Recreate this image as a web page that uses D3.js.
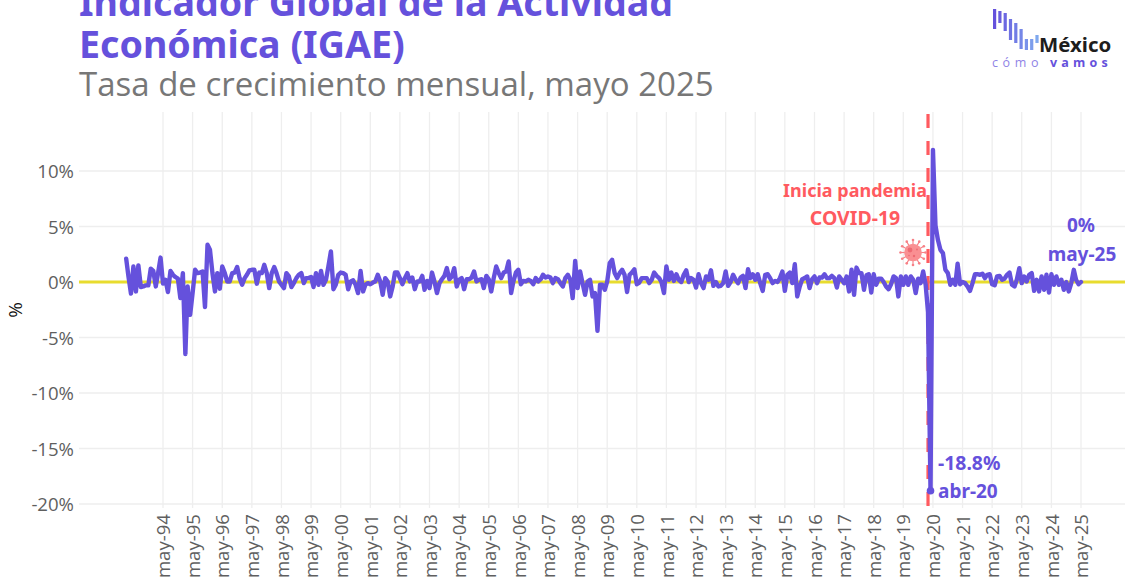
<!DOCTYPE html>
<html>
<head>
<meta charset="utf-8">
<script src="https://cdnjs.cloudflare.com/ajax/libs/d3/7.8.5/d3.min.js"></script>
<style>
  html, body { margin: 0; padding: 0; background: #fff; overflow: hidden; }
  text { font-family: "Open Sans", sans-serif; }
  .title { font-family: "Noto Sans", sans-serif; font-weight: 700; }
</style>
</head>
<body>
<svg id="canvas" width="1125" height="580"></svg>
<script>
// Monthly growth, Feb 1993 to May 2025, one row per year
var igae1993 = [2.1,.5,-1.05,1.4,-.85,1.5,-.45,-.4,-.3,-.3,1.2];
var igae1994 = [1,-.4,.8,2.2,-.15,.2,-.9,1,.65,.45,.3,-1.45];
var igae1995 = [.8,-6.5,-.4,-2.95,-1,1.1,.8,.85,.95,-2.25,3.35,2.9];
var igae1996 = [.8,-.85,.8,-.6,1.4,.8,.05,.05,.8,.85,1.35,.35];
var igae1997 = [-.25,.35,.65,1.05,1.1,1.1,-.15,.85,.8,1.55,.8,-.55];
var igae1998 = [.8,1.35,.8,.05,-.25,-.55,.8,.5,-.45,-.1,.35,.65];
var igae1999 = [.8,-.1,.35,.35,.45,-.45,.8,-.25,1,-.25,.2,1.4];
var igae2000 = [2.75,-.65,-.25,.65,.85,.8,.65,-.65,.05,.15,-.25,-1];
var igae2001 = [1,-.85,-.25,-.1,-.2,-.05,.05,.65,.05,-1.15,.35,.05];
var igae2002 = [-1.3,-.4,.85,.85,.35,-.2,.35,.8,.05,.4,-.65,.05];
var igae2003 = [.05,.55,-.7,.1,-.55,.85,.05,-1,-.1,.25,.55,1.25];
var igae2004 = [.25,.5,1.25,-.4,.2,.35,-.65,.25,.25,.4,.95,.05];
var igae2005 = [.2,.25,-.55,.55,.25,-.85,.35,1.4,.8,.35,.85,.95];
var igae2006 = [1.85,-1,.05,.85,1.1,-.2,.1,.05,.2,.1,-.2,.35];
var igae2007 = [.05,.25,.65,.4,.5,.4,-.1,.35,.25,-.1,-.4,.35];
var igae2008 = [.65,.2,-1.45,1.9,-.55,.95,-.1,-1.15,.05,.2,-1.3,-1];
var igae2009 = [-4.4,-.25,-.25,-.7,.05,1.7,2,.8,.35,.8,1.1,.65];
var igae2010 = [-.9,.65,.85,1.15,-.2,-.05,.35,.35,.35,-.1,.2,.85];
var igae2011 = [.55,.35,0,-1,1.4,.2,.85,.1,.7,.2,0,.65];
var igae2012 = [1.05,0,.35,.2,-.5,.7,-.1,-.55,.5,.2,1.05,-.35];
var igae2013 = [0,-.4,-.35,-.1,.95,-.35,0,.65,.2,-.1,.4,.55];
var igae2014 = [-.55,1.15,.35,.7,.2,.7,-.1,-.8,.65,.7,.35,-.1];
var igae2015 = [.1,0,.35,.95,-.8,.65,.85,-.1,1.6,-1.3,-.4,.25];
var igae2016 = [.35,.5,-.55,.25,.5,-.1,.4,.4,.7,.35,.35,.55];
var igae2017 = [.35,-.5,.5,.2,-.1,.5,-.85,1.1,-1.15,1.3,.8,.8];
var igae2018 = [-.7,.6,.7,-.95,.7,-.25,.3,.3,0,-.4,-.65,-.2];
var igae2019 = [.5,.35,-1.3,.5,-.25,.5,-.25,.5,.2,-1,.3,-.1];
var igae2020 = [.95,-.25,-2.7,-18.8,11.9,5.1,3.8,2.9,2.6,1.1,.8,-.25];
var igae2021 = [.2,-.25,1.65,-.2,0,-.1,-.4,-.8,-.1,.7,.7,.65];
var igae2022 = [.75,.35,.65,.7,-.2,-.3,.5,.55,.2,.3,.65,.85];
var igae2023 = [-.25,-.4,.2,1.25,-.1,.5,.05,.65,.8,-.8,.2,-.85];
var igae2024 = [.5,-.7,.65,-.95,.7,-.25,.5,-.25,.2,-.7,0,-.85];
var igae2025 = [-.1,1.1,.2,-.2,0];

var yTicks = [10, 5, 0, -5, -10, -15, -20];
var xTickYears = d3.range(1994, 2026);
var logoBars = [[0, 20], [1, 12], [2, 18], [3, 21], [4, 20], [5, 20], [6, 11], [7, 11], [8, 8]];

var purple = "#6551dc", red = "#ff5a5f", gray = "#5f5f5f";

var values = d3.merge([igae1993, igae1994, igae1995, igae1996, igae1997, igae1998, igae1999, igae2000,
    igae2001, igae2002, igae2003, igae2004, igae2005, igae2006, igae2007, igae2008, igae2009, igae2010,
    igae2011, igae2012, igae2013, igae2014, igae2015, igae2016, igae2017, igae2018, igae2019, igae2020,
    igae2021, igae2022, igae2023, igae2024, igae2025]);
var data = values.map(function(v, i) {
    return { date: new Date(Date.UTC(1993, 1 + i, 1)), value: v };
});

var svg = d3.select("#canvas");
var panel = { left: 79, right: 1125, top: 112, bottom: 508 };

// Scales
var x = d3.scaleUtc()
    .domain([new Date(Date.UTC(1994, 4, 1)), new Date(Date.UTC(2025, 4, 1))])
    .range([163, 1081]);
var y = d3.scaleLinear()
    .domain([10, -20])
    .range([171, 504]);

var pandemic = new Date(Date.UTC(2020, 2, 1));
var trough = new Date(Date.UTC(2020, 3, 1));
var last = data[data.length - 1];

// Grid
var xTicks = xTickYears.map(function(yr) { return new Date(Date.UTC(yr, 4, 1)); });
svg.append("g").selectAll("line").data(xTicks).enter().append("line")
    .attr("x1", function(d) { return x(d); })
    .attr("x2", function(d) { return x(d); })
    .attr("y1", panel.top).attr("y2", panel.bottom)
    .attr("stroke", "#eeeeee").attr("stroke-width", 1.3);
svg.append("g").selectAll("line").data(yTicks).enter().append("line")
    .attr("x1", panel.left).attr("x2", panel.right)
    .attr("y1", function(d) { return y(d); })
    .attr("y2", function(d) { return y(d); })
    .attr("stroke", "#eeeeee").attr("stroke-width", 1.3);

// Zero line
svg.append("line")
    .attr("x1", panel.left).attr("x2", panel.right)
    .attr("y1", y(0)).attr("y2", y(0))
    .attr("stroke", "#e8dc2e").attr("stroke-width", 2.8);

// Axes
var yAxis = svg.append("g")
    .attr("transform", "translate(" + (panel.left - 5) + ",1)")
    .call(d3.axisLeft(y).tickValues(yTicks).tickSize(0).tickPadding(0)
        .tickFormat(function(d) { return d + "%"; }));
yAxis.select(".domain").remove();
yAxis.selectAll("text")
    .style("font-family", '"Open Sans", sans-serif')
    .style("font-size", "18.6px")
    .attr("fill", gray);

var xAxis = svg.append("g")
    .attr("transform", "translate(0,514)")
    .call(d3.axisBottom(x).tickValues(xTicks).tickSize(0).tickPadding(0)
        .tickFormat(function(d) { return "may-" + d3.utcFormat("%y")(d); }));
xAxis.select(".domain").remove();
xAxis.selectAll("text")
    .style("font-family", '"Open Sans", sans-serif')
    .style("font-size", "18.6px")
    .attr("fill", gray)
    .attr("text-anchor", "end")
    .attr("transform", "rotate(-90)")
    .attr("x", 0).attr("y", 0).attr("dy", "0.36em");

svg.append("text")
    .attr("transform", "translate(22,310) rotate(-90)")
    .attr("text-anchor", "middle")
    .attr("fill", "#111")
    .style("font-size", "19px")
    .text("%");

// Series
var line = d3.line()
    .x(function(d) { return x(d.date); })
    .y(function(d) { return y(d.value); });

// Pandemic marker, under the series
svg.append("line")
    .attr("x1", x(pandemic)).attr("x2", x(pandemic))
    .attr("y1", panel.top + 2).attr("y2", panel.bottom)
    .attr("stroke", red).attr("stroke-width", 3.2)
    .attr("stroke-dasharray", "14 13");

svg.append("path")
    .datum(data)
    .attr("d", line)
    .attr("fill", "none")
    .attr("stroke", purple)
    .attr("stroke-width", 4.4)
    .attr("stroke-linejoin", "round")
    .attr("stroke-linecap", "round");

svg.append("circle")
    .attr("cx", x(trough)).attr("cy", y(-18.8)).attr("r", 3.8).attr("fill", purple);

// Virus icon
var virus = svg.append("g").attr("transform", "translate(913,252.5)");
d3.range(0, 360, 30).forEach(function(a) {
    var r = a * Math.PI / 180;
    virus.append("line")
        .attr("x1", 0).attr("y1", 0)
        .attr("x2", 12 * Math.cos(r)).attr("y2", 12 * Math.sin(r))
        .attr("stroke", "#f78086").attr("stroke-width", 1.1);
    virus.append("circle")
        .attr("cx", 12.5 * Math.cos(r)).attr("cy", 12.5 * Math.sin(r))
        .attr("r", 1.3).attr("fill", "#f78086");
});
virus.append("circle").attr("r", 8.8).attr("fill", "#f98f92");
virus.append("circle").attr("cx", -3).attr("cy", -2.5).attr("r", 2.4).attr("fill", "#ee6a72");
virus.append("circle").attr("cx", 1).attr("cy", 3.5).attr("r", 1.2).attr("fill", "#ee6a72");
virus.append("circle").attr("cx", 4).attr("cy", -3).attr("r", 0.9).attr("fill", "#ee6a72");
virus.append("circle").attr("cx", -4).attr("cy", 3).attr("r", 0.8).attr("fill", "#ee6a72");

// Annotations
function note(px, py, anchor, color, txt, size) {
    svg.append("text")
        .attr("x", px).attr("y", py)
        .attr("text-anchor", anchor)
        .attr("fill", color)
        .style("font-family", '"Noto Sans", sans-serif')
        .style("font-weight", 700)
        .style("font-size", size + "px")
        .text(txt);
}
note(927, 197, "end", red, "Inicia pandemia", 18);
note(855, 225, "middle", red, "COVID-19", 19.5);
note(x(last.date), 232, "middle", purple, last.value + "%", 19);
note(x(last.date) + 1, 261, "middle", purple, "may-25", 19);
note(938, 470, "start", purple, "-18.8%", 19.4);
note(938, 498, "start", purple, "abr-20", 19);

// Titles
svg.append("text").attr("class", "title")
    .attr("x", 79).attr("y", 16).attr("fill", purple)
    .style("font-size", "37.6px").text("Indicador Global de la Actividad");
svg.append("text").attr("class", "title")
    .attr("x", 79).attr("y", 58).attr("fill", purple)
    .style("font-size", "37.6px").text("Económica (IGAE)");
svg.append("text")
    .attr("x", 79).attr("y", 96).attr("fill", "#777777")
    .style("font-size", "33px").text("Tasa de crecimiento mensual, mayo 2025");

// Logo
var logo = svg.append("g").attr("transform", "translate(993,9)");
var logoColor = d3.scaleLinear().domain([0, 8]).range([purple, "#7fa8ee"]);
var logoTop = [0, 2, 4, 10, 14, 20, 30, 30, 26];
logo.selectAll("rect").data(logoBars).enter().append("rect")
    .attr("x", function(d) { return d[0] * 5.3; })
    .attr("y", function(d, i) { return logoTop[i]; })
    .attr("width", 3.2)
    .attr("height", function(d) { return d[1]; })
    .attr("fill", function(d) { return logoColor(d[0]); });
svg.append("text")
    .attr("x", 1039).attr("y", 52).attr("fill", "#1d1d1d")
    .style("font-family", '"Noto Sans", sans-serif')
    .style("font-weight", 700).style("font-size", "20.4px")
    .text("México");
svg.append("text")
    .attr("x", 992).attr("y", 67).attr("fill", "#8f83e6")
    .style("font-size", "12.5px").attr("letter-spacing", "4.6px")
    .text("cómo");
svg.append("text")
    .attr("x", 1050).attr("y", 67).attr("fill", purple)
    .style("font-size", "12.5px").style("font-weight", 700).attr("letter-spacing", "4.2px")
    .text("vamos");
</script>
</body>
</html>
